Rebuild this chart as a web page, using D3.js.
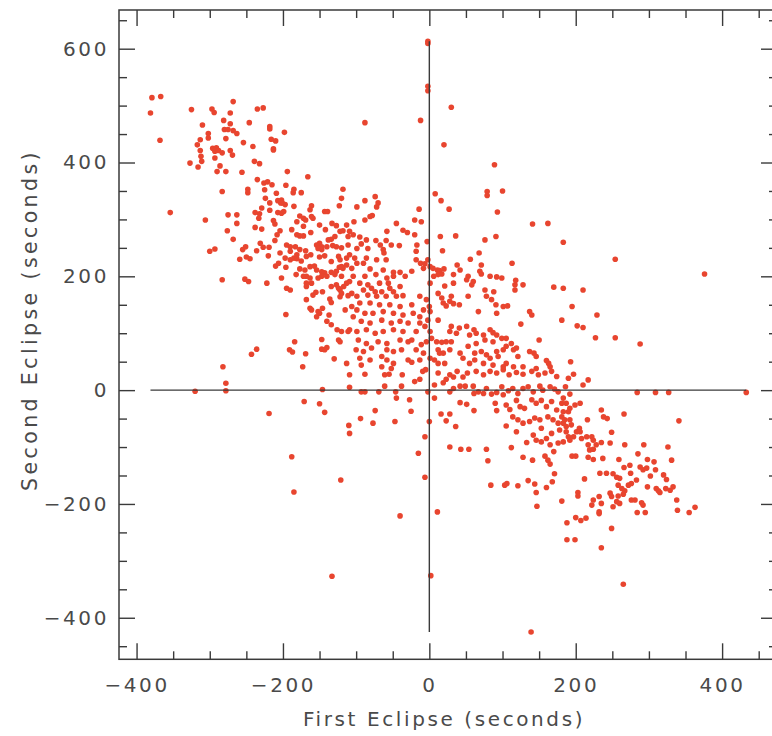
<!DOCTYPE html>
<html>
<head>
<meta charset="utf-8">
<script src="https://cdn.jsdelivr.net/npm/d3@7"></script>
<style>
body { margin: 0; background: #fff; }
text { font-family: "DejaVu Sans", sans-serif; }
</style>
</head>
<body>
<div id="plot"></div>
<script>

// first eclipse / second eclipse timing offsets (seconds)
var upperLeft = [
[-379,514],[-367,516],[-381,487],[-368,439],[-325,493],[-297,494],[-294,488],[-268,507],[-272,487],[-310,466],[-281,474],[-272,468],[-280,458],[-275,458],[-268,456],[-263,451],[-278,442],[-302,451],[-302,443],[-313,440],[-317,431],[-296,425],[-291,426],[-254,435],[-246,470],[-235,494],[-227,496],[-218,463],[-218,459],[-198,453],[-216,441],[-210,438],[-213,424],[-241,428],
[-2,613],[-2,609],[-2,534],[-2,526],[30,497],[-12,474],[-88,470],[20,431],
[-313,421],[-312,411],[-311,402],[-293,420],[-288,421],[-283,417],[-272,421],[-269,413],[-293,408],[-286,394],[-290,384],[-278,384],[-256,383],[-327,399],[-316,392],[-239,402],[-232,398],[-213,422],[-194,384],[-166,375],
[-235,370],[-226,364],[-221,366],[-215,361],[-196,360],[-185,353],[-186,347],[-175,347],[-248,353],[-248,347],[-225,352],[-224,337],[-283,349],[-209,346],[-207,333],[-202,334],[-201,329],[-197,326],[-203,329],[-118,353],[-120,337],[-123,324],
[-218,329],[-229,320],[-218,316],[-207,312],[-202,311],[-199,314],[-185,323],[-161,324],[-163,317],[-143,314],[-139,314],[-354,312],[-238,312],[-232,310],[-233,302],[-275,308],[-263,308],[-177,306],[-172,302],[-169,299],[-159,302],[-161,305],
[-306,299],[-263,293],[-213,298],[-211,292],[-181,296],[-172,288],[-150,290],[-133,293],[-127,289],[-113,290],[-238,286],[-229,283],[-276,280],[-204,280],[-208,273],[-188,282],[-181,273],[-177,271],[-172,271],[-162,277],[-142,282],[-122,279],[-118,280],[-111,270],[-129,270],[-134,265],[-138,264],[-150,258],[-147,252],[-154,255],
[-268,265],[-251,252],[-231,258],[-227,251],[-219,251],[-211,263],[-195,255],[-190,252],[-183,252],[-190,244],[-181,238],[-177,247],[-169,245],[-162,238],[-168,235],[-152,249],[-147,247],[-140,252],[-132,254],[-127,252],[-120,250],[-111,255],[-300,244],[-293,248],[-255,247],[-236,245],[-250,234],[-259,230],[-245,231],[-220,236],[-204,241],[-197,232],[-190,229],[-185,232],[-181,231],[-175,227],[-150,234],[-143,236],[-134,226],[-124,235],[-122,229],[-113,232],
[-210,218],[-206,223],[-196,216],[-182,203],[-177,213],[-170,211],[-168,200],[-163,217],[-157,218],[-154,211],[-147,208],[-143,206],[-140,200],[-134,207],[-127,209],[-123,216],[-120,217],[-118,214],[-113,220],[-172,200],[-163,197],[-152,197],[-129,203],[-120,200],[-147,200],[-283,194],[-252,195],[-247,191],[-222,188],[-202,197],[-195,179],[-190,176],[-168,188],[-168,182],[-161,188],[-159,167],[-155,172],[-146,173],[-134,182],[-127,185],[-124,179],[-122,176],[-120,170],[-117,182],[-113,188],
[-136,160],[-134,154],[-122,164],[-111,166],[-163,144],[-161,141],[-152,138],[-150,135],[-154,129],[-146,144],[-137,132],[-168,159],[-196,133],[-115,141],
[-140,121],[-134,115],[-126,106],[-120,103],[-111,103],[-122,85],[-124,88],[-147,89],[-184,85],[-147,72],[-140,75],[-143,71],[-191,71],[-187,67],[-169,64],[-236,72],[-243,63],[-130,55],[-113,47],[-282,41],[-173,41]
];

var upperCentre = [
[89,396],[79,349],[79,342],[100,350],[93,313],[141,292],[162,293],[91,270],[76,264],[113,223],[170,181],[8,345],[16,333],[27,318],[15,270],[36,271],[18,245],[68,241],[56,230],
[-74,340],[-88,333],[-70,329],[-72,322],[-99,322],[-78,307],[-81,305],[-88,299],[-103,296],[-14,318],[-20,299],[-11,296],[-45,293],[-58,279],[-36,281],[-30,277],[-20,273],[-3,261],[-109,279],[-104,273],[-95,269],[-86,264],[-73,263],[-59,263],[-93,257],[-67,255],[-52,255],[-41,254],[-17,255],[-99,249],[-84,249],[-63,247],[-62,241],[-18,244],[-109,238],[-102,232],[-86,232],[-72,229],[-59,229],[-99,223],[-90,223],[-18,229],[-12,223],[-6,222],[-2,229],[1,217],[-8,214],[-106,214],[-81,213],[-63,211],[-49,207],[-40,207],[-24,209],[5,214],[11,211],[14,210],[20,213],[6,200],[12,203],[17,204],[33,203],[38,220],[42,211],[71,220],[69,209],
[-104,200],[-88,200],[-73,203],[-58,197],[-49,200],[-33,200],[71,204],[53,200],[51,194],[60,191],[58,185],[83,200],[92,199],[99,197],[118,193],[117,185],[128,185],[-109,191],[-95,188],[-84,185],[-68,188],[-56,188],[-54,179],[-40,182],[1,188],[21,183],[33,188],[-90,176],[-79,179],[-74,173],[-65,173],[-49,173],[-106,170],[-99,165],[-84,167],[-72,165],[-59,165],[-45,165],[-36,166],[-13,165],[-4,159],[12,170],[17,162],[30,165],[28,156],[19,153],[23,148],[33,152],[41,150],[53,165],[76,176],[78,165],[85,159],[91,150],[101,147],[107,148],[88,173],[117,176],[67,138],[92,135],[137,138],[140,132],[125,116],[150,88],
[-95,153],[-81,153],[-68,150],[-54,150],[-40,147],[-24,150],[-106,147],[-99,141],[-88,135],[-77,135],[-63,138],[-49,135],[-36,132],[-22,135],[-8,141],[0,147],[1,138],[-13,129],[-2,123],[12,123],[-104,129],[-93,121],[-81,118],[-65,123],[-52,118],[-40,121],[-29,118],[-13,118],[-6,112],[-109,106],[-99,103],[-86,106],[-74,100],[-63,103],[-49,106],[-36,103],[-18,103],[1,103],[30,112],[41,109],[51,112],[61,106],[64,100],[28,103],[37,100],[55,97],[74,97],[83,106],[87,101],[92,97],[99,91],[105,91],[112,82],[119,74],[87,85],[76,88],[64,82],[53,77],[105,77],[121,59],[115,71],[137,68],[143,65],[146,59],[160,52],[163,47],
[-97,88],[-86,82],[-70,85],[-58,82],[-40,88],[-29,85],[-24,88],[-11,80],[-4,85],[3,91],[10,85],[17,84],[23,85],[30,85],[-100,71],[-90,68],[-79,74],[-58,71],[-49,68],[-38,71],[-18,71],[-8,65],[12,71],[14,65],[19,65],[28,71],[42,65],[46,56],[62,65],[71,68],[78,62],[83,56],[92,68],[94,59],[101,71],[105,47],[-95,56],[-81,53],[-65,59],[-58,53],[-49,47],[-29,53],[-24,49],[-13,53],[1,56],[7,53],[12,47],[21,47],[55,47],[62,53],[74,47],[87,44],[101,41],[115,41],[128,41],[146,38],[165,41],[-65,41],[-52,38],[-93,44],
[183,260],[254,230],[376,204],[183,179],[210,176],[195,147],[229,132],[181,123],[202,113],[210,110],[227,92],[254,92],[288,81],[193,50]
];

var lowerHalf = [
[-320,-2],[-278,-1],[-278,12],[-171,-20],[-150,-24],[-146,1],[-143,-39],[-219,-41],[-110,-62],[-188,-117],[-121,-158],[-185,-179],[-133,-327],
[-88,28],[-109,27],[-61,27],[-55,28],[-37,27],[-20,15],[-13,19],[-9,33],[-5,36],[12,30],[19,13],[23,19],[28,27],[33,23],[38,33],[46,23],[52,30],[64,33],[74,27],[83,33],[92,30],[101,36],[109,27],[119,31],[128,28],[140,33],[149,27],[158,30],[167,33],[174,24],
[-109,5],[-93,-3],[-88,-3],[-69,-3],[-61,7],[-46,-3],[-38,7],[-2,-3],[7,9],[28,-3],[33,3],[42,7],[49,7],[60,7],[61,-6],[67,-3],[74,-6],[78,3],[85,-7],[92,-4],[99,6],[101,-8],[108,-1],[114,3],[121,-6],[128,3],[135,6],[142,-3],[151,7],[155,0],[165,6],[171,2],[176,-3],
[-45,-14],[-27,-17],[7,-14],[42,-22],[51,-25],[61,-36],[90,-23],[92,-36],[105,-26],[110,-34],[119,-18],[124,-29],[130,-32],[140,-17],[146,-23],[153,-18],[160,-29],[167,-20],[174,-35],[-74,-36],[-25,-37],[-94,-50],[-77,-58],[-47,-55],[0,-55],[16,-42],[23,-54],[28,-42],[36,-64],
[105,-63],[114,-47],[121,-52],[128,-58],[137,-55],[144,-49],[151,-52],[162,-47],[169,-52],[176,-58],[119,-73],[153,-67],[167,-76],[142,-79],[146,-88],[153,-91],[160,-85],[133,-92],[165,-96],[176,-93],[-109,-76],[-6,-82],[-15,-111],[28,-100],[43,-104],[54,-104],[78,-104],[112,-101],[128,-118],[141,-123],[158,-116],[162,-123],[165,-130],[170,-108],[80,-124],[-6,-153],[84,-167],[103,-167],[106,-164],[121,-168],[135,-159],[144,-165],[160,-171],[168,-161],[171,-147],[146,-180],[147,-204],[-40,-221],[11,-214],[2,-326],[139,-425]
];

var lowerRight = [
[197,28],[190,21],[186,6],[210,9],[217,18],[192,-7],[284,-4],[309,-4],[327,-4],[433,-4],[183,-14],[181,-23],[187,-23],[199,-26],[192,-32],[206,-23],[183,-38],[190,-38],[181,-47],[185,-52],[192,-52],[183,-58],[187,-64],[194,-61],[178,-70],[187,-73],[190,-82],[197,-82],[183,-91],[192,-88],[201,-73],[205,-67],[206,-73],[208,-85],[215,-82],[222,-82],[224,-88],[217,-96],[219,-105],[224,-104],[228,-96],[235,-92],[216,-52],[235,-35],[238,-47],[243,-50],[266,-42],[249,-74],[247,-93],[267,-96],[293,-96],[326,-100],[341,-54],[331,-123],
[195,-116],[200,-116],[217,-118],[224,-122],[237,-120],[259,-122],[285,-112],[298,-122],[307,-126],[274,-132],[266,-136],[288,-135],[292,-140],[297,-137],[309,-140],[283,-158],[302,-151],[320,-149],[324,-157],[212,-156],[233,-146],[242,-146],[251,-147],[256,-153],[260,-155],[275,-146],[276,-164],[272,-167],[298,-170],[258,-167],[263,-173],[267,-177],[265,-183],[258,-186],[247,-181],[249,-187],[310,-173],[315,-180],[323,-173],[329,-176],[333,-170],[313,-177],[203,-180],[203,-186],[181,-195],[224,-193],[222,-202],[232,-187],[235,-199],[276,-193],[281,-193],[290,-198],[292,-202],[338,-193],[251,-205],[256,-196],[260,-199],[284,-215],[295,-215],[339,-211],[355,-215],[363,-206],[232,-214],[232,-217],[200,-224],[207,-229],[214,-225],[188,-233],[249,-243],[188,-263],[199,-263],[235,-277],[265,-341]
];

var xMajor = [-400, -200, 0, 200, 400];
var yMajor = [-400, -200, 0, 200, 400, 600];
var xTitle = "First Eclipse (seconds)";
var yTitle = "Second Eclipse (seconds)";

var eclipses = upperLeft.concat(upperCentre, lowerHalf, lowerRight);

var svg = d3.select('#plot').append('svg').attr('width', 772).attr('height', 736);

var x_scale = d3.scaleLinear().domain([-424, 475]).range([119, 777]);
var y_scale = d3.scaleLinear().domain([-473, 668]).range([659.3, 10]);

var xMinor = d3.range(-400, 475, 50).filter(function(v) { return xMajor.indexOf(v) < 0; });
var yMinor = d3.range(-450, 668, 50).filter(function(v) { return yMajor.indexOf(v) < 0; });

var ink = '#3a3a3a';

function styleAxis(g) {
    g.select('.domain').remove();
    g.selectAll('line').attr('stroke', ink).attr('stroke-width', 1.4);
    g.selectAll('text')
        .attr('fill', '#4a4a4a')
        .style('font-size', '20px')
        .style('letter-spacing', '2.6px');
}

// major + minor ticks on all four sides, pointing inward
[[xMajor, -16, true], [xMinor, -8, false]].forEach(function(t) {
    svg.append('g').attr('transform', 'translate(0,659.3)')
        .call(d3.axisBottom(x_scale).tickValues(t[0]).tickSize(t[1]).tickPadding(19)
            .tickFormat(t[2] ? d3.format('') : ''))
        .call(styleAxis);
    svg.append('g').attr('transform', 'translate(0,10)')
        .call(d3.axisTop(x_scale).tickValues(t[0]).tickSize(t[1]).tickFormat(''))
        .call(styleAxis);
});
[[yMajor, -16, true], [yMinor, -8, false]].forEach(function(t) {
    svg.append('g').attr('transform', 'translate(119,0)')
        .call(d3.axisLeft(y_scale).tickValues(t[0]).tickSize(t[1]).tickPadding(10)
            .tickFormat(t[2] ? d3.format('') : ''))
        .call(styleAxis);
    svg.append('g').attr('transform', 'translate(777,0)')
        .call(d3.axisRight(y_scale).tickValues(t[0]).tickSize(t[1]).tickFormat(''))
        .call(styleAxis);
});

svg.append('rect')
    .attr('x', 119).attr('y', 10)
    .attr('width', 777 - 119).attr('height', 659.3 - 10)
    .attr('fill', 'none').attr('stroke', ink).attr('stroke-width', 1.5);

// the points
svg.append('g').selectAll('circle')
    .data(eclipses)
    .enter().append('circle')
    .attr('cx', function(d) { return x_scale(d[0]); })
    .attr('cy', function(d) { return y_scale(d[1]); })
    .attr('r', 2.8)
    .attr('fill', '#e8452f');

// zero lines spanning the data range
var xExt = d3.extent(eclipses, function(d) { return d[0]; });
var yExt = d3.extent(eclipses, function(d) { return d[1]; });
svg.append('line')
    .attr('x1', x_scale(xExt[0])).attr('x2', x_scale(xExt[1]))
    .attr('y1', y_scale(0)).attr('y2', y_scale(0))
    .attr('stroke', ink).attr('stroke-width', 1.4);
svg.append('line')
    .attr('x1', x_scale(0)).attr('x2', x_scale(0))
    .attr('y1', y_scale(yExt[0])).attr('y2', y_scale(yExt[1]))
    .attr('stroke', ink).attr('stroke-width', 1.4);

svg.append('text')
    .attr('x', 444).attr('y', 726)
    .attr('text-anchor', 'middle')
    .attr('fill', '#4a4a4a')
    .style('font-size', '20px').style('letter-spacing', '2.6px')
    .text(xTitle);

svg.append('text')
    .attr('transform', 'translate(37,320) rotate(-90)')
    .attr('text-anchor', 'middle')
    .attr('fill', '#4a4a4a')
    .style('font-size', '20.5px').style('letter-spacing', '3.4px')
    .text(yTitle);

</script>
</body>
</html>
